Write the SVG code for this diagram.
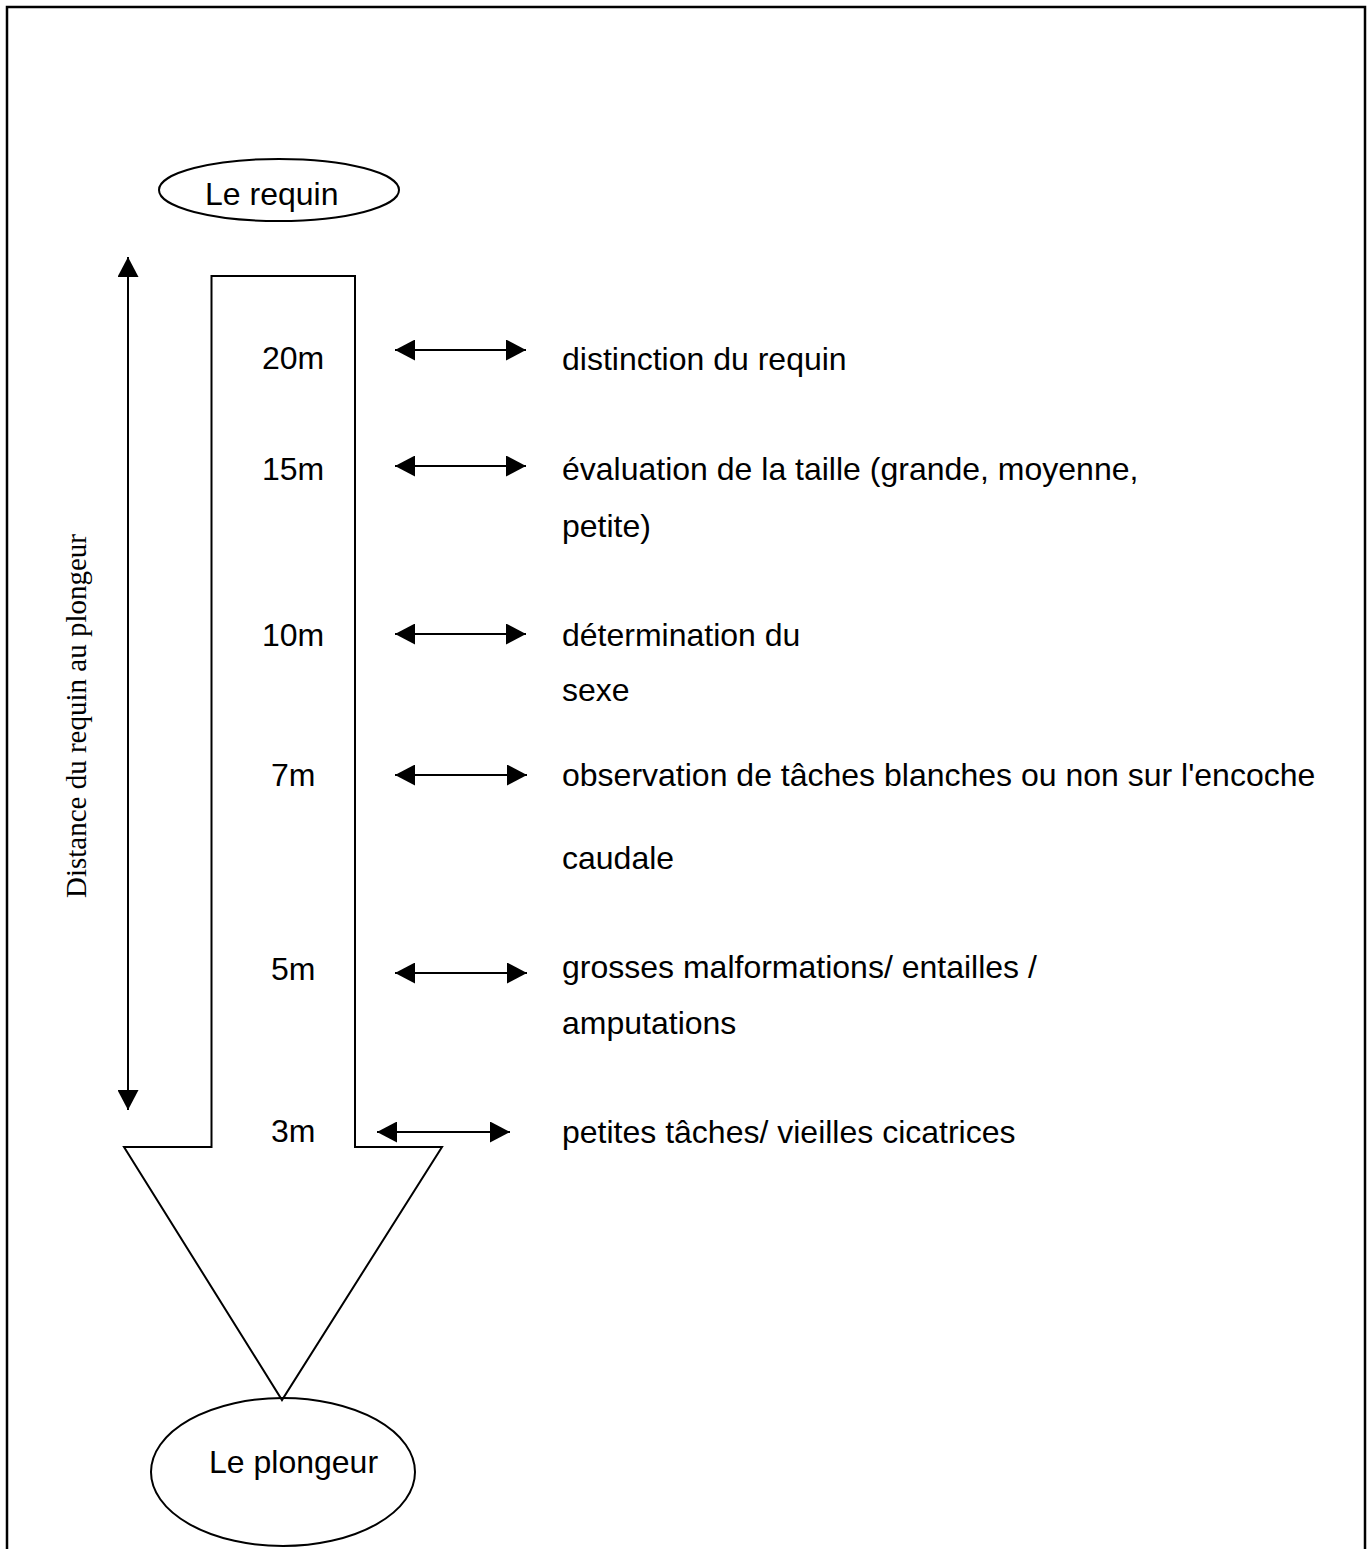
<svg xmlns="http://www.w3.org/2000/svg" width="1369" height="1549" viewBox="0 0 1369 1549">
<defs>
<style>
.t{font-family:"Liberation Sans",Arial,sans-serif;font-size:32px;fill:#000}
.s{fill:none;stroke:#000;stroke-width:2}
.v{font-family:"Liberation Serif","Times New Roman",serif;font-size:29px;fill:#000}
</style>
<marker id="ah" viewBox="0 0 20 21" refX="20" refY="10.5" markerWidth="20" markerHeight="21" markerUnits="userSpaceOnUse" orient="auto-start-reverse">
<path d="M0,0 L20,10.5 L0,21 Z" fill="#000"/>
</marker>
</defs>
<rect x="0" y="0" width="1369" height="1549" fill="#fff"/>
<rect x="7" y="7" width="1358" height="1600" fill="none" stroke="#000" stroke-width="2.5"/>

<g id="requin">
<ellipse class="s" cx="279" cy="190" rx="120" ry="31"/>
<text class="t" x="205" y="205">Le requin</text>
</g>

<g id="fleche">
<path class="s" d="M211.5,1147 L211.5,276 L355,276 L355,1147 L442,1147 L282,1400 L124,1147 Z"/>
<text class="t" x="262" y="369">20m</text>
<text class="t" x="262" y="480">15m</text>
<text class="t" x="262" y="646">10m</text>
<text class="t" x="271" y="786">7m</text>
<text class="t" x="271" y="980">5m</text>
<text class="t" x="271" y="1142">3m</text>
</g>

<g id="plongeur">
<ellipse class="s" cx="283" cy="1472" rx="132" ry="74"/>
<text class="t" x="209" y="1473">Le plongeur</text>
</g>

<g id="distance">
<text class="v" transform="translate(86,898) rotate(-90)">Distance du requin au plongeur</text>
</g>

<g id="labels">
<text class="t" x="562" y="370">distinction du requin</text>
<text class="t" x="562" y="480">évaluation de la taille (grande, moyenne,</text>
<text class="t" x="562" y="537">petite)</text>
<text class="t" x="562" y="646">détermination du</text>
<text class="t" x="562" y="701">sexe</text>
<text class="t" x="562" y="786">observation de tâches blanches ou non sur l'encoche</text>
<text class="t" x="562" y="869">caudale</text>
<text class="t" x="562" y="978">grosses malformations/ entailles /</text>
<text class="t" x="562" y="1034">amputations</text>
<text class="t" x="562" y="1143">petites tâches/ vieilles cicatrices</text>
</g>

<g id="connecteurs">
<line class="s" x1="128" y1="1110" x2="128" y2="257" marker-start="url(#ah)" marker-end="url(#ah)"/>
<line class="s" x1="395" y1="350" x2="526" y2="350" marker-start="url(#ah)" marker-end="url(#ah)"/>
<line class="s" x1="395" y1="466" x2="526" y2="466" marker-start="url(#ah)" marker-end="url(#ah)"/>
<line class="s" x1="395" y1="634" x2="526" y2="634" marker-start="url(#ah)" marker-end="url(#ah)"/>
<line class="s" x1="395" y1="775" x2="527" y2="775" marker-start="url(#ah)" marker-end="url(#ah)"/>
<line class="s" x1="395" y1="973" x2="527" y2="973" marker-start="url(#ah)" marker-end="url(#ah)"/>
<line class="s" x1="377" y1="1132" x2="510" y2="1132" marker-start="url(#ah)" marker-end="url(#ah)"/>
</g>
</svg>
